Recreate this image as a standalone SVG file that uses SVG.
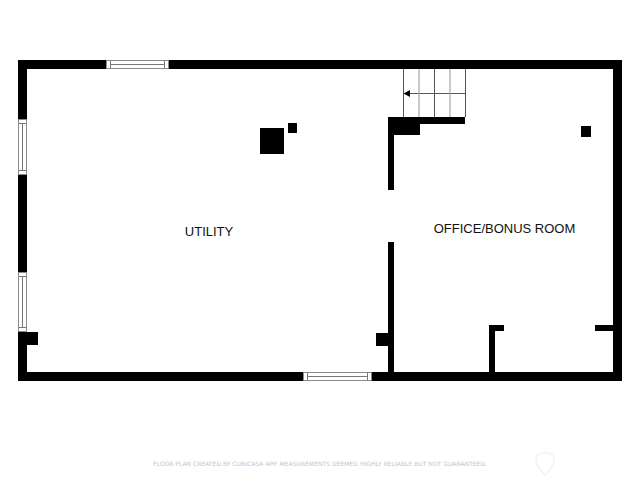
<svg xmlns="http://www.w3.org/2000/svg" width="640" height="480" viewBox="0 0 640 480">
<style>
.wall{fill:#000}
.win{fill:#fff;stroke:#8a8a8a;stroke-width:1}
.winline{stroke:#777;stroke-width:1;fill:none}
.stair{stroke:#555;stroke-width:1;fill:none}
.stair2{stroke:#a5a5a5;stroke-width:1.2;fill:none}
.label{font-family:"Liberation Sans",Arial,sans-serif;font-size:13px;fill:#111;text-anchor:middle}
.foot{font-family:"DejaVu Sans",sans-serif;font-size:6px;fill:#c4c4c4;text-anchor:middle}
</style>
<rect width="640" height="480" fill="#fff"/>
<g id="walls">
<rect class="wall" x="18" y="60" width="604" height="9"/>
<rect class="wall" x="18" y="372" width="604" height="9"/>
<rect class="wall" x="18" y="60" width="9" height="321"/>
<rect class="wall" x="613" y="60" width="9" height="321"/>
<rect class="wall" x="388" y="117" width="6" height="73"/>
<rect class="wall" x="388" y="242" width="6" height="130"/>
<rect class="wall" x="388" y="117" width="77" height="7"/>
<rect class="wall" x="388" y="117" width="32" height="18"/>
<rect class="wall" x="27" y="332" width="11" height="13"/>
<rect class="wall" x="376" y="333" width="12" height="13"/>
<rect class="wall" x="489" y="325" width="6" height="47"/>
<rect class="wall" x="489" y="325" width="15" height="6"/>
<rect class="wall" x="595" y="325" width="18" height="6"/>
</g>
<g id="column-large"><rect class="wall" x="260" y="128" width="24" height="26"/></g>
<g id="column-small"><rect class="wall" x="288" y="123" width="9" height="10"/></g>
<g id="column-right"><rect class="wall" x="581" y="126" width="10" height="11"/></g>
<g id="window-top">
<rect class="win" x="106.500" y="60.500" width="62" height="8"/>
<path class="winline" d="M110.500 61V68M164.500 61V68M110.500 64.500H164.500"/>
</g>
<g id="window-left-1">
<rect class="win" x="18.500" y="119.500" width="8" height="55"/>
<path class="winline" d="M19 123.500H26M19 170.500H26M22.500 123.500V170.500"/>
</g>
<g id="window-left-2">
<rect class="win" x="18.500" y="272.500" width="8" height="59"/>
<path class="winline" d="M19 276.500H26M19 327.500H26M22.500 276.500V327.500"/>
</g>
<g id="window-bottom">
<rect class="win" x="303.500" y="372.500" width="68" height="8"/>
<path class="winline" d="M307.500 373V380M367.500 373V380M307.500 376.500H367.500"/>
</g>
<g id="stairs">
<path class="stair" d="M403.500 69V117M434.500 69V117M465.500 69V117M404 93.500H465.500"/>
<path class="stair2" d="M419 69V117M450 69V117"/>
<polygon points="403.500,93.500 410,90 410,97" fill="#000"/>
</g>
<g id="room-utility"><text class="label" x="209" y="235.500">UTILITY</text></g>
<g id="room-office"><text class="label" x="504.500" y="233">OFFICE/BONUS ROOM</text></g>
<text class="foot" x="320" y="465.500" textLength="334" lengthAdjust="spacingAndGlyphs">FLOOR PLAN CREATED BY CUBICASA APP. MEASUREMENTS DEEMED HIGHLY RELIABLE BUT NOT GUARANTEED.</text>
<path d="M545 475C538 468 535 463 536 458C538 451 552 451 554 458C555 463 552 468 545 475Z" fill="none" stroke="#f5f5f5" stroke-width="2"/>
</svg>
